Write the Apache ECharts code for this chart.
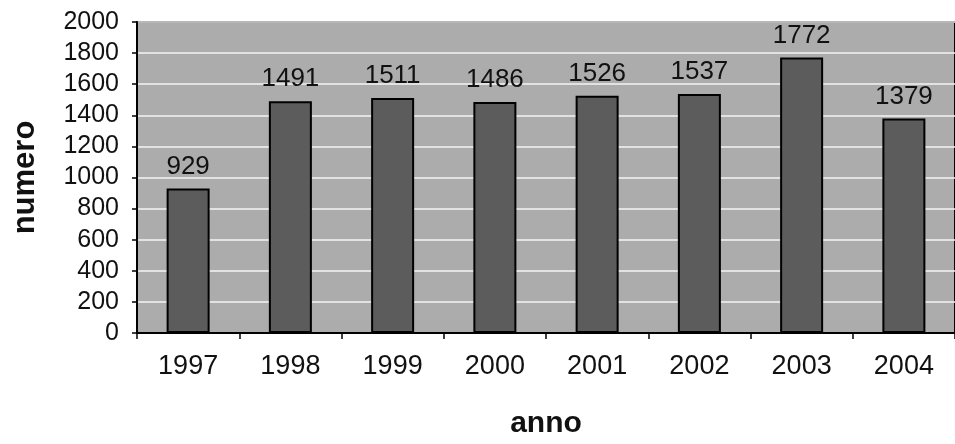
<!DOCTYPE html>
<html>
<head>
<meta charset="utf-8">
<script src="https://cdn.jsdelivr.net/npm/echarts@6/dist/echarts.min.js"></script>
<style>
html,body{margin:0;padding:0;background:#fff;}
#c{width:955px;height:444px;}
</style>
</head>
<body>
<div id="c"></div>
<script>
const categories = ['1997','1998','1999','2000','2001','2002','2003','2004'];
const values = [929, 1491, 1511, 1486, 1526, 1537, 1772, 1379];
const yTicks = [0, 200, 400, 600, 800, 1000, 1200, 1400, 1600, 1800, 2000];

const chart = echarts.init(document.getElementById('c'));
const font = 'Liberation Sans, Arial, sans-serif';
chart.setOption({
  animation: false,
  backgroundColor: '#ffffff',
  grid: { left: 137, top: 22, right: -6, bottom: 111, show: true, backgroundColor: '#acacac', borderColor: '#000', borderWidth: 2 },
  xAxis: {
    type: 'category',
    data: categories,
    name: 'anno',
    nameLocation: 'middle',
    nameGap: 76,
    nameTextStyle: { fontFamily: font, fontSize: 30, fontWeight: 'bold', color: '#111' },
    axisLine: { lineStyle: { color: '#000', width: 2 } },
    axisTick: { show: true, length: 6, lineStyle: { color: '#000', width: 1.5 } },
    axisLabel: { fontFamily: font, fontSize: 27, color: '#111', margin: 20 },
    splitLine: { show: false }
  },
  yAxis: {
    type: 'value',
    min: yTicks[0],
    max: yTicks[yTicks.length - 1],
    interval: 200,
    name: 'numero',
    nameLocation: 'middle',
    nameGap: 96,
    nameRotate: 90,
    nameTextStyle: { fontFamily: font, fontSize: 31, fontWeight: 'bold', color: '#111' },
    axisLine: { show: true, lineStyle: { color: '#000', width: 2 } },
    axisTick: { show: true, length: 5, lineStyle: { color: '#000', width: 1.5 } },
    axisLabel: { fontFamily: font, fontSize: 25, color: '#111', margin: 18, formatter: function (v) { return String(v); } },
    splitLine: { show: true, lineStyle: { color: '#f4f4f4', width: 1.5 } }
  },
  series: [{
    type: 'bar',
    data: values,
    barWidth: 43,
    itemStyle: { color: '#5c5c5c', borderColor: '#000', borderWidth: 2 },
    label: { show: true, position: 'top', distance: 9, fontFamily: font, fontSize: 26, color: '#111' }
  }]
});
</script>
</body>
</html>
